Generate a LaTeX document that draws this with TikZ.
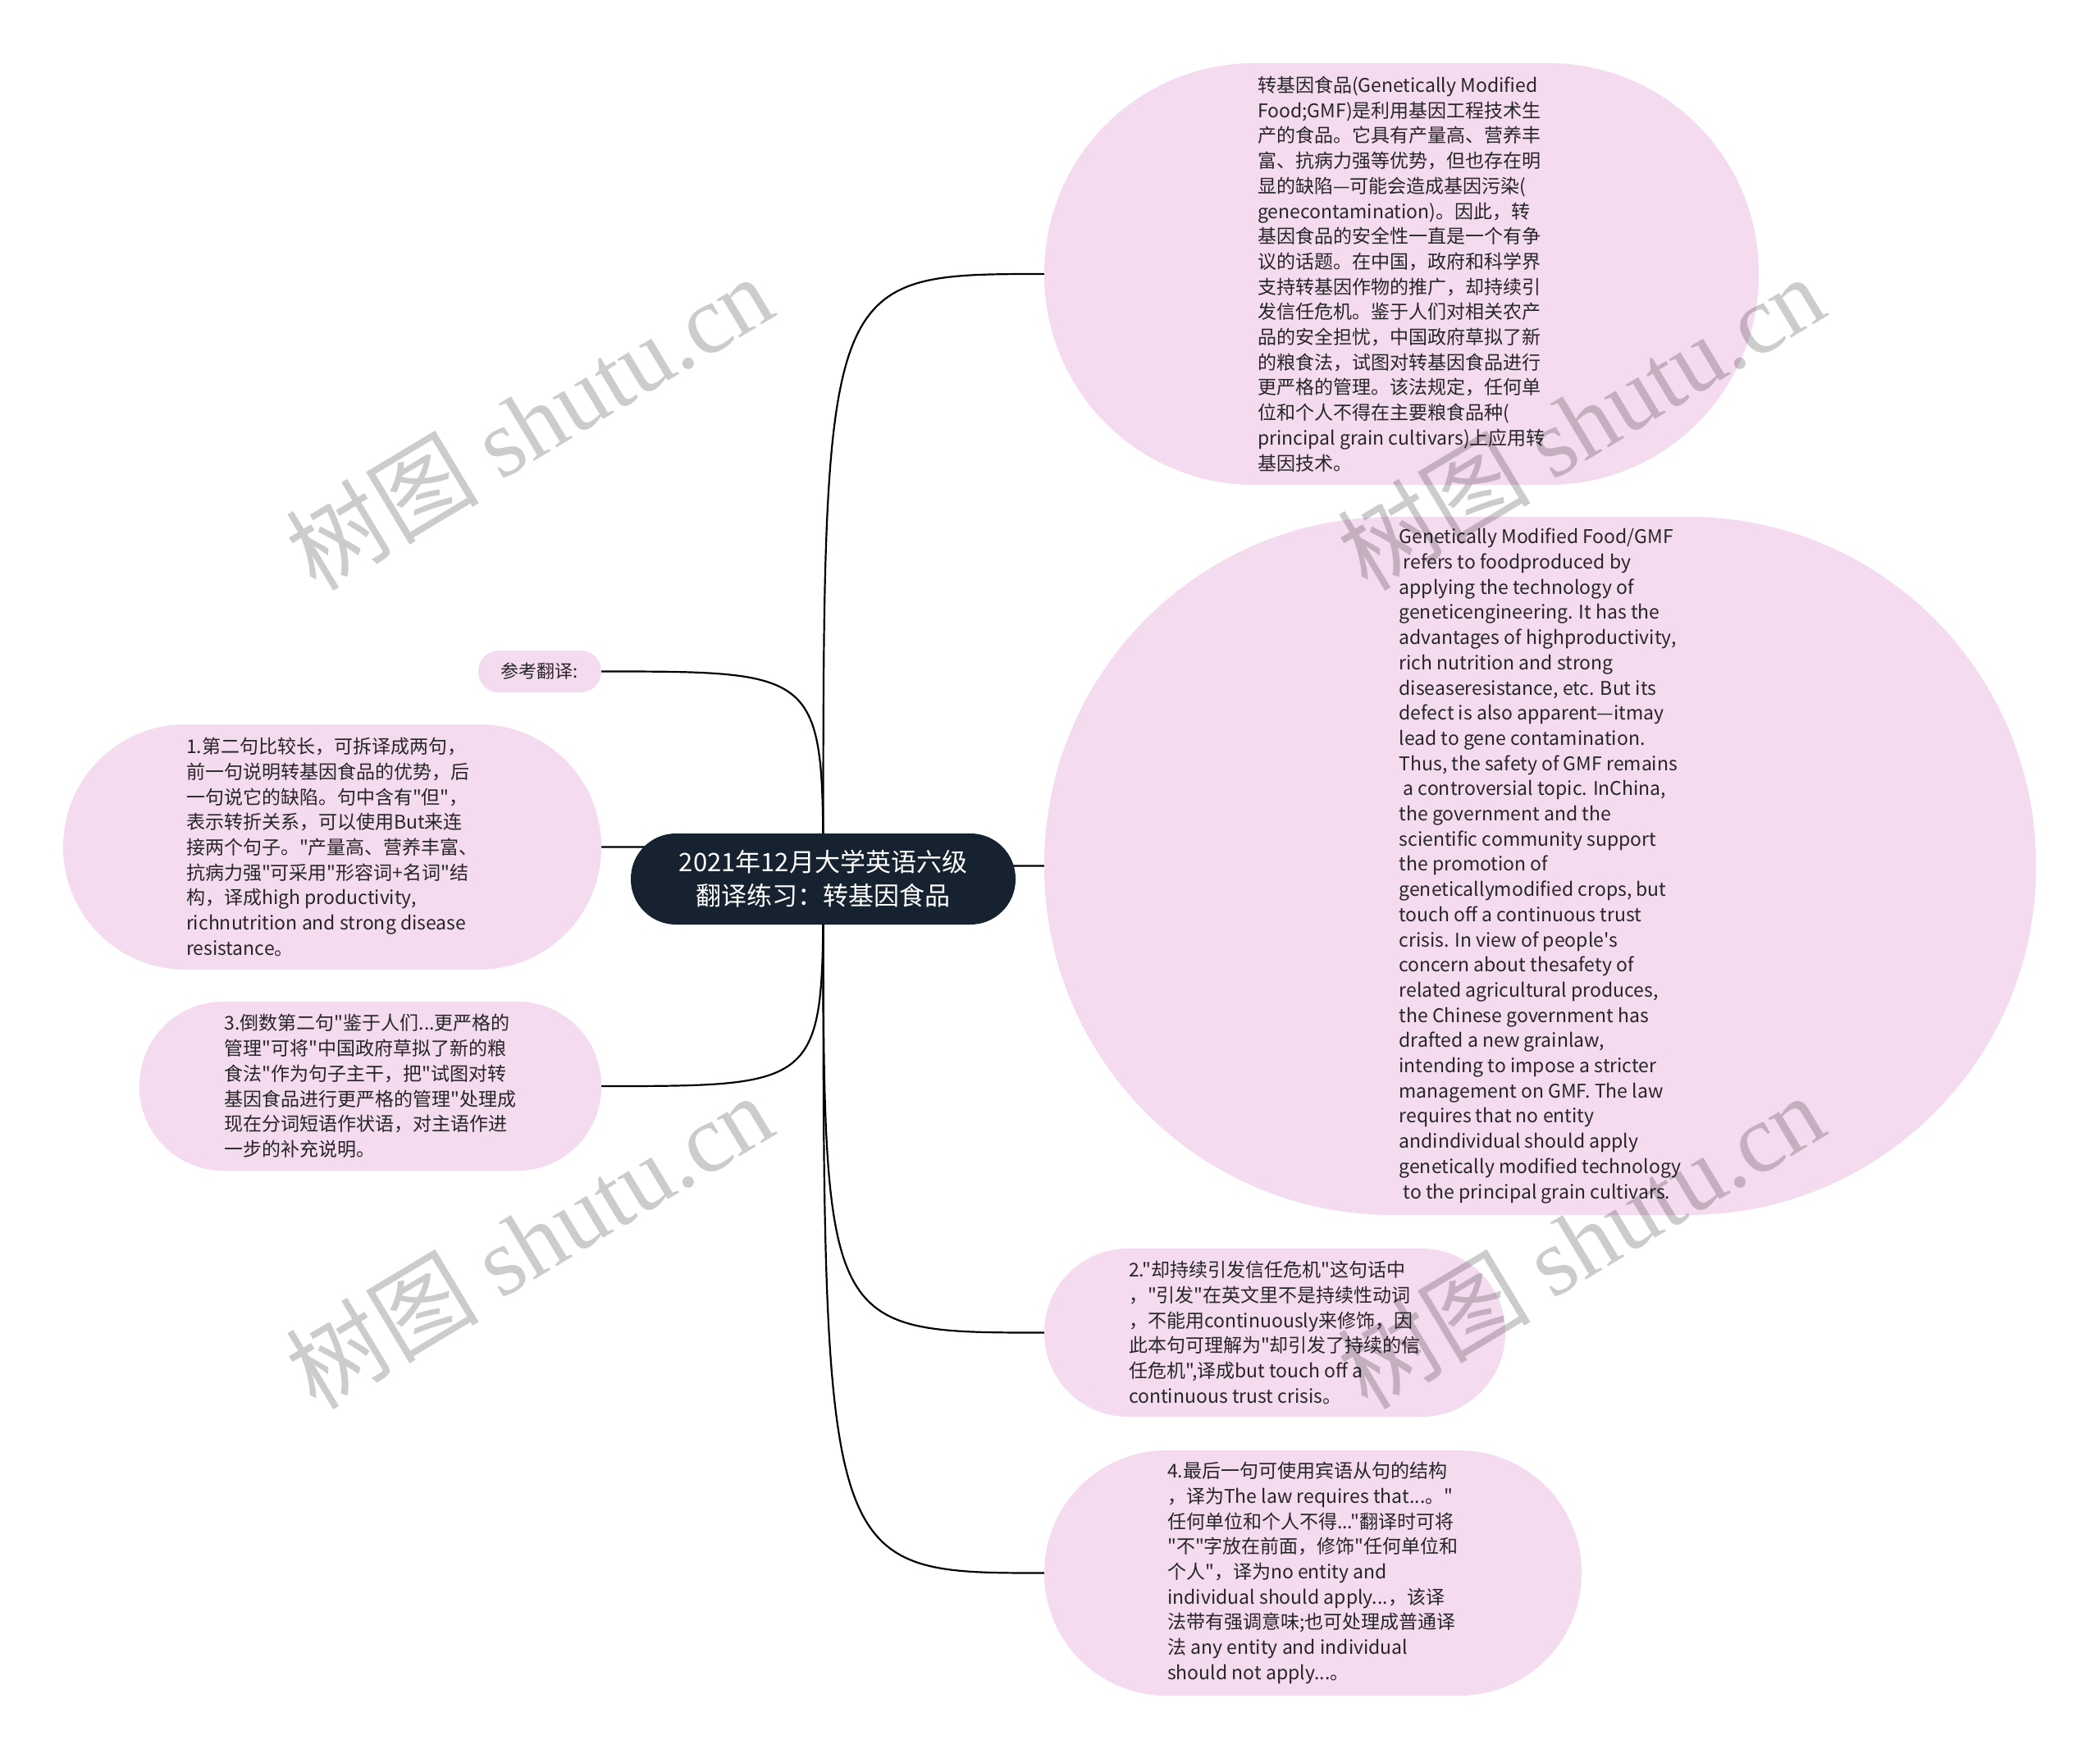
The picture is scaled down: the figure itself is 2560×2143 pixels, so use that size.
\documentclass[tikz,border=0pt]{standalone}
\usepackage{fontspec}
\setmainfont{Noto Sans CJK SC}[Ligatures=TeXOff]
\newfontfamily\wmfont{Liberation Serif}
\usetikzlibrary{backgrounds}
\definecolor{pinkfill}{RGB}{245,219,240}
\definecolor{rootfill}{RGB}{22,34,48}
\definecolor{txt}{RGB}{38,38,38}
\begin{document}
\begin{tikzpicture}[x=1pt,y=-1pt,
  leaf/.style={fill=pinkfill, inner sep=0pt, align=left, text=txt,
               font=\fontsize{23}{30.7}\selectfont},
  rootbox/.style={fill=rootfill, inner sep=0pt, align=center, text=white,
               font=\fontsize{31}{41}\selectfont},
  edge/.style={draw=black, line width=2.2pt},
  wm/.style={text=black, opacity=0.2, rotate=31, inner sep=0pt,
               font=\fontsize{118}{125}\selectfont}
]
\useasboundingbox (0,0) rectangle (2560,2143);

% root
\node[rootbox, minimum width=469pt, minimum height=111pt, rounded corners=55pt]
  (root) at (1003.5,1071.5) {2021年12月大学英语六级\\翻译练习：转基因食品};

% right children
\node[leaf, minimum width=871pt, minimum height=514pt, rounded corners=256pt]
  (A) at (1708.5,334) {转基因食品(Genetically Modified\\
Food;GMF)是利用基因工程技术生\\
产的食品。它具有产量高、营养丰\\
富、抗病力强等优势，但也存在明\\
显的缺陷—可能会造成基因污染(\\
genecontamination)。因此，转\\
基因食品的安全性一直是一个有争\\
议的话题。在中国，政府和科学界\\
支持转基因作物的推广，却持续引\\
发信任危机。鉴于人们对相关农产\\
品的安全担忧，中国政府草拟了新\\
的粮食法，试图对转基因食品进行\\
更严格的管理。该法规定，任何单\\
位和个人不得在主要粮食品种(\\
principal grain cultivars)上应用转\\
基因技术。};

\node[leaf, minimum width=1209pt, minimum height=851pt, rounded corners=424pt]
  (B) at (1877.5,1055.5) {Genetically Modified Food/GMF\\
\mbox{}\ refers to foodproduced by\\
applying the technology of\\
geneticengineering. It has the\\
advantages of highproductivity,\\
rich nutrition and strong\\
diseaseresistance, etc. But its\\
defect is also apparent—itmay\\
lead to gene contamination.\\
Thus, the safety of GMF remains\\
\mbox{}\ a controversial topic. InChina,\\
the government and the\\
scientific community support\\
the promotion of\\
geneticallymodified crops, but\\
touch off a continuous trust\\
crisis. In view of people's\\
concern about thesafety of\\
related agricultural produces,\\
the Chinese government has\\
drafted a new grainlaw,\\
intending to impose a stricter\\
management on GMF. The law\\
requires that no entity\\
andindividual should apply\\
genetically modified technology\\
\mbox{}\ to the principal grain cultivars.};

\node[leaf, minimum width=562pt, minimum height=205pt, rounded corners=102pt]
  (n2) at (1554,1624.5) {2."却持续引发信任危机"这句话中\\
，"引发"在英文里不是持续性动词\\
，不能用continuously来修饰，因\\
此本句可理解为"却引发了持续的信\\
任危机",译成but touch off a\\
continuous trust crisis。};

\node[leaf, minimum width=655pt, minimum height=299pt, rounded corners=149pt]
  (n4) at (1600.5,1917.5) {4.最后一句可使用宾语从句的结构\\
，译为The law requires that...。"\\
任何单位和个人不得..."翻译时可将\\
"不"字放在前面，修饰"任何单位和\\
个人"，译为no entity and\\
individual should apply...，该译\\
法带有强调意味;也可处理成普通译\\
法 any entity and individual\\
should not apply...。};

% left children
\node[leaf, minimum width=150pt, minimum height=51pt, rounded corners=25pt,
      font=\fontsize{22}{28}\selectfont]
  (ref) at (658,818.5) {参考翻译:};

\node[leaf, minimum width=656pt, minimum height=299pt, rounded corners=149pt]
  (n1) at (405,1032.5) {1.第二句比较长，可拆译成两句，\\
前一句说明转基因食品的优势，后\\
一句说它的缺陷。句中含有"但"，\\
表示转折关系，可以使用But来连\\
接两个句子。"产量高、营养丰富、\\
抗病力强"可采用"形容词+名词"结\\
构，译成high productivity,\\
richnutrition and strong disease\\
resistance。};

\node[leaf, minimum width=563pt, minimum height=206pt, rounded corners=102pt]
  (n3) at (451.5,1324) {3.倒数第二句"鉴于人们...更严格的\\
管理"可将"中国政府草拟了新的粮\\
食法"作为句子主干，把"试图对转\\
基因食品进行更严格的管理"处理成\\
现在分词短语作状语，对主语作进\\
一步的补充说明。};

% connectors
\begin{scope}[on background layer]
  \fill[white] (0,0) rectangle (2560,2143);
  \foreach \c in {A,B,n2,n4}
    \draw[edge] (root.center) .. controls (root.center |- \c.west) .. (\c.west);
  \foreach \c in {ref,n1,n3}
    \draw[edge] (root.center) .. controls (root.center |- \c.east) .. (\c.east);
\end{scope}

% watermarks
\node[wm] (w1) at (645,514)  {树图 {\wmfont shutu.cn}};
\node[wm] (w2) at (1927,514) {树图 {\wmfont shutu.cn}};
\node[wm] (w3) at (645,1512) {树图 {\wmfont shutu.cn}};
\node[wm] (w4) at (1927,1512) {树图 {\wmfont shutu.cn}};
\end{tikzpicture}
\end{document}
